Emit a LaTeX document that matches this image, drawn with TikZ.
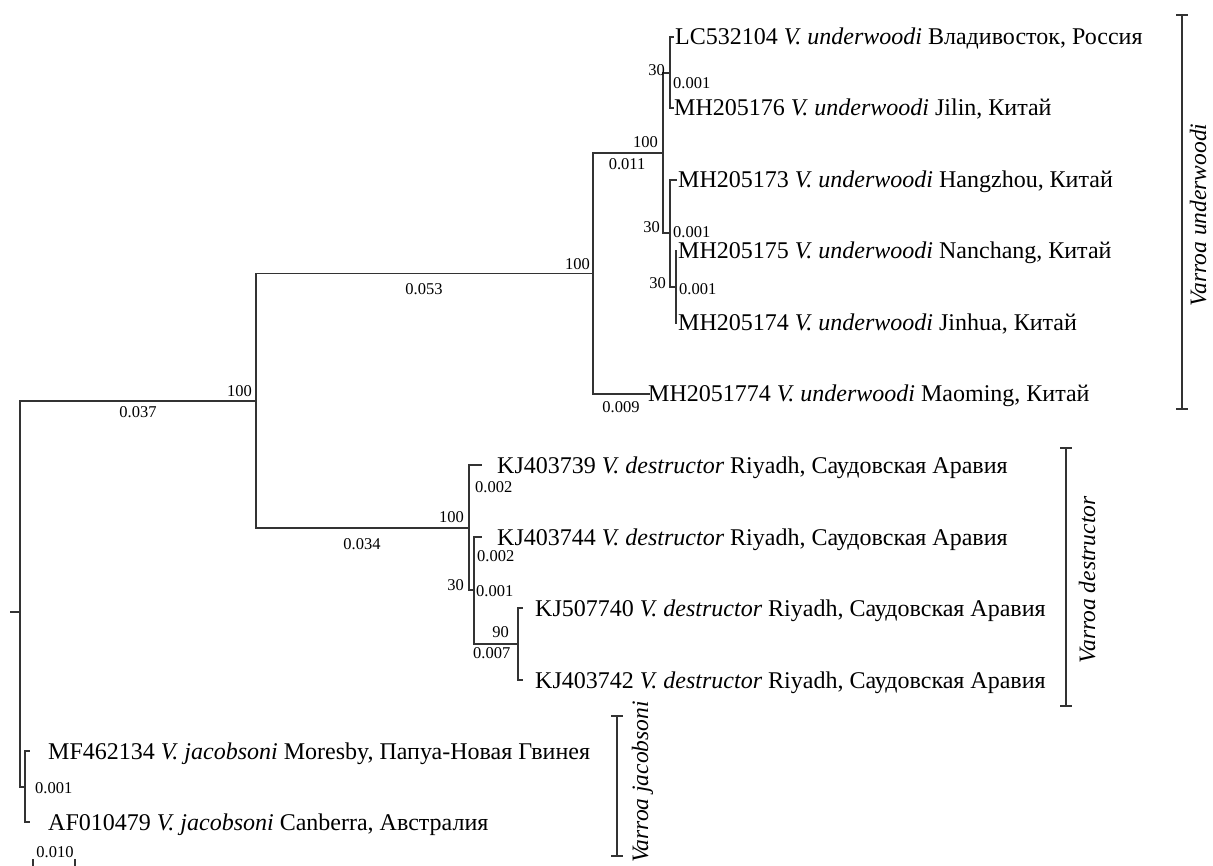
\documentclass[tikz,border=0pt]{standalone}
\usepackage{fontspec}
\setmainfont{Liberation Serif}
\begin{document}
\begin{tikzpicture}[x=1pt,y=-1pt,
  br/.style={line width=1.1pt,draw=black!80},
  leaf/.style={anchor=base west,inner sep=0pt,font=\fontsize{24}{28}\selectfont},
  num/.style={inner sep=0pt,font=\fontsize{16.5}{18}\selectfont},
  clade/.style={rotate=90,anchor=base,inner sep=0pt,text depth=0pt,font=\fontsize{23.5}{28}\selectfont\itshape}]
\useasboundingbox (0,0) rectangle (1213,866);
% internal nodes
\coordinate (r0) at (10,612);
\coordinate (r) at (20,612);
\coordinate (F) at (256,401);
\coordinate (J) at (25,787);
\coordinate (E) at (593,273.5);
\coordinate (G) at (469,528);
\coordinate (A) at (663,153);
\coordinate (B) at (670,73);
\coordinate (C) at (670,233);
\coordinate (D) at (676,287);
\coordinate (H) at (474,590);
\coordinate (I) at (518,644);
% leaf ends
\coordinate (l1) at (674,37);
\coordinate (l2) at (674,108);
\coordinate (l3) at (677,180);
\coordinate (l4) at (677,251);
\coordinate (l5) at (677,323);
\coordinate (l6) at (650,394);
\coordinate (l7) at (482,465);
\coordinate (l8) at (482,537);
\coordinate (l9) at (523,608);
\coordinate (l10) at (523,680);
\coordinate (l11) at (30,751);
\coordinate (l12) at (30,822);
% branches
\draw[br] (r0) -- (r);
\draw[br] (r) |- (F);
\draw[br] (r) |- (J);
\draw[br] (F) |- (E);
\draw[br] (F) |- (G);
\draw[br] (E) |- (A);
\draw[br] (E) |- (l6);
\draw[br] (A) |- (B);
\draw[br] (A) |- (C);
\draw[br] (B) |- (l1);
\draw[br] (B) |- (l2);
\draw[br] (C) |- (l3);
\draw[br] (C) |- (D);
\draw[br] (D) |- (l4);
\draw[br] (D) |- (l5);
\draw[br] (G) |- (l7);
\draw[br] (G) |- (H);
\draw[br] (H) |- (l8);
\draw[br] (H) |- (I);
\draw[br] (I) |- (l9);
\draw[br] (I) |- (l10);
\draw[br] (J) |- (l11);
\draw[br] (J) |- (l12);
% leaf labels
\node[leaf] (t1) at (675,45) {LC532104 \textit{V. underwoodi} Владивосток, Россия};
\node[leaf] (t2) at (674,116) {MH205176 \textit{V. underwoodi} Jilin, Китай};
\node[leaf] (t3) at (678,188) {MH205173 \textit{V. underwoodi} Hangzhou, Китай};
\node[leaf] (t4) at (678,259) {MH205175 \textit{V. underwoodi} Nanchang, Китай};
\node[leaf] (t5) at (678,331) {MH205174 \textit{V. underwoodi} Jinhua, Китай};
\node[leaf] (t6) at (648,402) {MH2051774 \textit{V. underwoodi} Maoming, Китай};
\node[leaf] (t7) at (497,473) {KJ403739 \textit{V. destructor} Riyadh, Саудовская Аравия};
\node[leaf] (t8) at (497,545) {KJ403744 \textit{V. destructor} Riyadh, Саудовская Аравия};
\node[leaf] (t9) at (535,616) {KJ507740 \textit{V. destructor} Riyadh, Саудовская Аравия};
\node[leaf] (t10) at (535,688) {KJ403742 \textit{V. destructor} Riyadh, Саудовская Аравия};
\node[leaf] (t11) at (48,759) {MF462134 \textit{V. jacobsoni} Moresby, Папуа-Новая Гвинея};
\node[leaf] (t12) at (48,830) {AF010479 \textit{V. jacobsoni} Canberra, Австралия};
% support and branch length labels
\node[num,anchor=south east] (sF) at (252,397) {100};
\node[num,anchor=north] (bF) at (138,406) {0.037};
\node[num,anchor=south east] (sE) at (590,270) {100};
\node[num,anchor=north] (bE) at (424,283) {0.053};
\node[num,anchor=south east] (sA) at (658,148) {100};
\node[num,anchor=north] (bA) at (627,158) {0.011};
\node[num,anchor=south east] (sB) at (665,76) {30};
\node[num,anchor=north west] (bB) at (673,77) {0.001};
\node[num,anchor=south east] (sC) at (660,233) {30};
\node[num,anchor=north west] (bC) at (673,226) {0.001};
\node[num,anchor=south east] (sD) at (666,289) {30};
\node[num,anchor=north west] (bD) at (679,283) {0.001};
\node[num,anchor=north] (b6) at (621,401) {0.009};
\node[num,anchor=south east] (sG) at (464,523) {100};
\node[num,anchor=north] (bG) at (362,538) {0.034};
\node[num,anchor=north west] (b7) at (475,481) {0.002};
\node[num,anchor=north west] (b8) at (477,550) {0.002};
\node[num,anchor=south east] (sH) at (464,591) {30};
\node[num,anchor=north west] (bH) at (476,585) {0.001};
\node[num,anchor=south east] (sI) at (509,638) {90};
\node[num,anchor=north west] (bI) at (473,647) {0.007};
\node[num,anchor=west] (bJ) at (35,788) {0.001};
% scale bar
\node[num] (sc) at (55,852) {0.010};
\coordinate (sc1) at (33,859);
\coordinate (sc2) at (75,859);
\draw[br] (sc1) -- ++(0,8);
\draw[br] (sc2) -- ++(0,8);
% clade bars
\coordinate (u1) at (1182,15);
\coordinate (u2) at (1182,409);
\draw[br] (u1) -- (u2);
\draw[br] ([xshift=-6pt]u1) -- ([xshift=6pt]u1);
\draw[br] ([xshift=-6pt]u2) -- ([xshift=6pt]u2);
\node[clade] (cu) at (1206,215) {Varroa underwoodi};
\coordinate (d1) at (1066,448);
\coordinate (d2) at (1066,706);
\draw[br] (d1) -- (d2);
\draw[br] ([xshift=-6pt]d1) -- ([xshift=6pt]d1);
\draw[br] ([xshift=-6pt]d2) -- ([xshift=6pt]d2);
\node[clade] (cd) at (1095,580) {Varroa destructor};
\coordinate (j1) at (617,716);
\coordinate (j2) at (617,856);
\draw[br] (j1) -- (j2);
\draw[br] ([xshift=-6pt]j1) -- ([xshift=6pt]j1);
\draw[br] ([xshift=-6pt]j2) -- ([xshift=6pt]j2);
\node[clade] (cj) at (648,782) {Varroa jacobsoni};
\end{tikzpicture}
\end{document}
